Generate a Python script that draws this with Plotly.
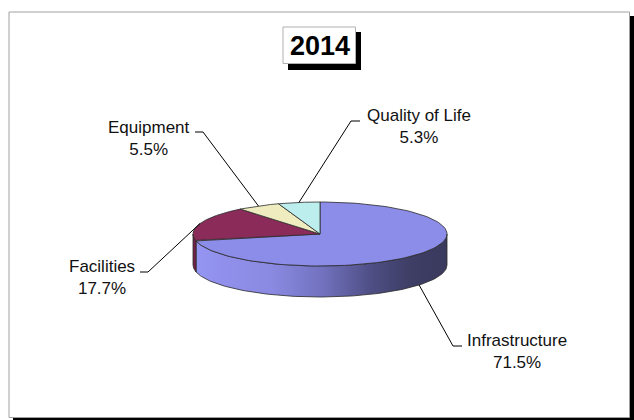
import numpy as np
import plotly.graph_objects as go

# Budget split for 2014
categories = ["Infrastructure", "Facilities", "Equipment", "Quality of Life"]
shares = [71.5, 17.7, 5.5, 5.3]
title_text = "2014"

top_colors = ["#8c8ce9", "#8a2b5a", "#efedc0", "#bdeeee"]
side_colors = ["#8c8ce9", "#74204a", "#d8d6a8", "#a6d6d6"]

# label text centres and the elbow where each leader line turns horizontal
label_pos = {"Infrastructure": (517, 351), "Facilities": (102, 277),
             "Equipment": (149, 138), "Quality of Life": (419, 126)}
elbow = {"Infrastructure": (453, 346, 462), "Facilities": (148, 272, 140),
         "Equipment": (203, 132, 195), "Quality of Life": (351, 121, 360)}

# pseudo-3D pie geometry (pixel-like data units, y grows downward)
cx, cy, rx, ry, depth = 320.0, 234.0, 127.0, 32.0, 31.0
FONT = "Arial, Liberation Sans, sans-serif"


def ellipse_pts(t0, t1, dy=0.0, n=120):
    t = np.radians(np.linspace(t0, t1, n))
    return cx + rx * np.cos(t), cy - ry * np.sin(t) + dy


total = float(sum(shares))
cum = np.concatenate([[0.0], np.cumsum(shares) / total])
starts = 90.0 - 360.0 * cum[:-1]   # clockwise from 12 o'clock
ends = 90.0 - 360.0 * cum[1:]

fig = go.Figure()

# side walls (front half of the disc only)
for i, name in enumerate(categories):
    lo, hi = max(ends[i], -180.0), min(starts[i], 0.0)
    if hi <= lo:
        continue
    xt, yt = ellipse_pts(hi, lo)
    xb, yb = ellipse_pts(lo, hi, depth)
    xs = np.concatenate([xt, xb, xt[:1]])
    ys = np.concatenate([yt, yb, yt[:1]])
    kw = dict(fillcolor=side_colors[i])
    if i == 0:
        kw = dict(fillgradient=dict(
            type="horizontal",
            colorscale=[[0.0, "#9494f2"], [0.3, "#8a8ae2"], [0.5, "#7272c0"],
                        [0.7, "#4e4e84"], [0.85, "#3e3e66"], [1.0, "#3a3a5e"]]))
    fig.add_trace(go.Scatter(x=xs, y=ys, mode="lines", fill="toself",
                             line=dict(color="#2a2a2a", width=0.8),
                             hoverinfo="skip", showlegend=False, **kw))

# top faces
for i, name in enumerate(categories):
    xa, ya = ellipse_pts(starts[i], ends[i])
    xs = np.concatenate([[cx], xa, [cx]])
    ys = np.concatenate([[cy], ya, [cy]])
    fig.add_trace(go.Scatter(x=xs, y=ys, mode="lines", fill="toself",
                             fillcolor=top_colors[i],
                             line=dict(color="#2a2a2a", width=0.8),
                             hoverinfo="skip", showlegend=False))

# leader lines and labels
for i, name in enumerate(categories):
    mid = (starts[i] + ends[i]) / 2.0
    t = np.radians(mid)
    px = cx + rx * np.cos(t)
    py = cy - ry * np.sin(t) + (depth if np.sin(t) < 0 else 0.0)
    ex, ey, hx = elbow[name]
    fig.add_trace(go.Scatter(x=[px, ex, hx], y=[py, ey, ey], mode="lines",
                             line=dict(color="#000000", width=1),
                             hoverinfo="skip", showlegend=False))
    lx, ly = label_pos[name]
    fig.add_annotation(x=lx, y=ly, text=f"{name}<br>{shares[i]:.1f}%",
                       showarrow=False, xanchor="center", yanchor="middle",
                       font=dict(family=FONT, size=17, color="#111111"))

# chart frame with drop shadow, and boxed title
shapes = [
    dict(type="rect", x0=13, y0=16, x1=636, y1=424, fillcolor="#000000",
         line=dict(width=0), layer="below"),
    dict(type="rect", x0=9, y0=12, x1=629.5, y1=417.5, fillcolor="#ffffff",
         line=dict(color="#a0a0a0", width=1), layer="below"),
    dict(type="rect", x0=288, y0=32, x1=361, y1=70, fillcolor="#000000",
         line=dict(width=0), layer="below"),
    dict(type="rect", x0=283, y0=27, x1=355.5, y1=63.5, fillcolor="#ffffff",
         line=dict(color="#b0b0b0", width=1), layer="below"),
]
fig.add_annotation(x=319.5, y=46, text=f"<b>{title_text}</b>", showarrow=False,
                   xanchor="center", yanchor="middle",
                   font=dict(family=FONT, size=27, color="#000000"))

fig.update_layout(
    width=634, height=420,
    margin=dict(l=0, r=0, t=0, b=0),
    paper_bgcolor="#ffffff", plot_bgcolor="rgba(0,0,0,0)",
    shapes=shapes,
    xaxis=dict(range=[0, 634], visible=False, fixedrange=True),
    yaxis=dict(range=[420, 0], visible=False, fixedrange=True),
)

fig.write_html("out.html")
